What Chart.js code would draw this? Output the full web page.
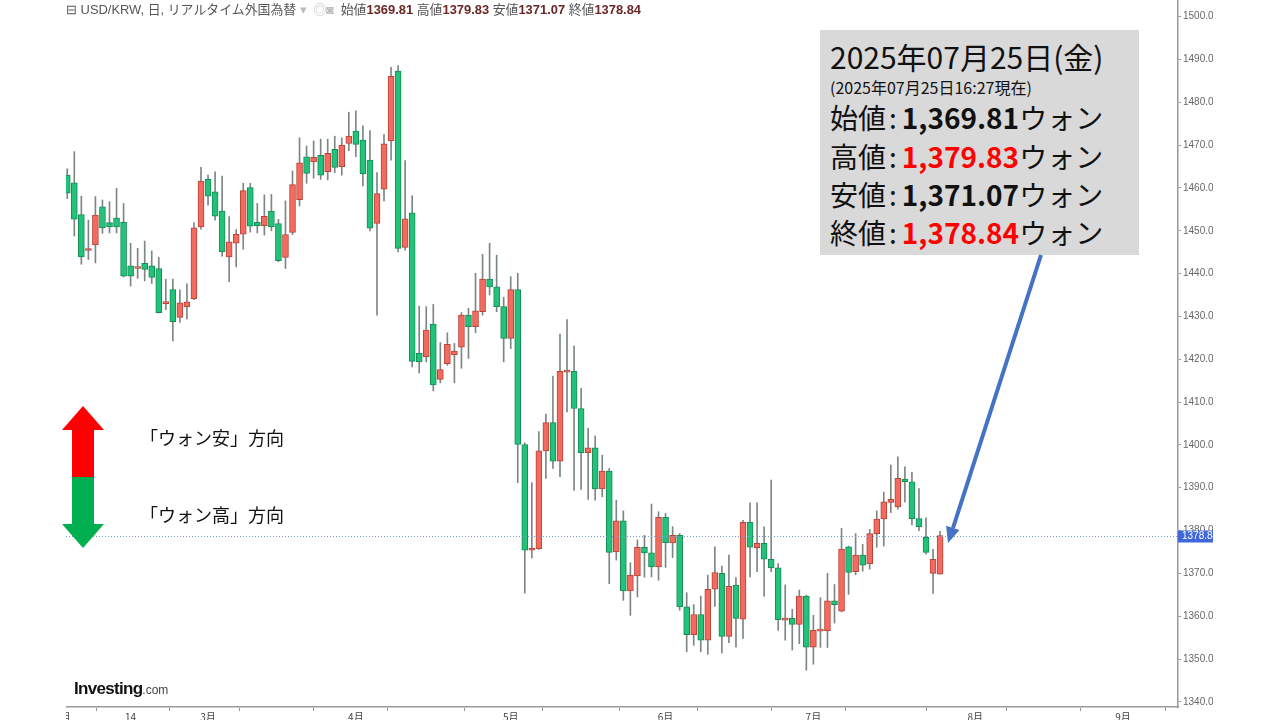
<!DOCTYPE html>
<html>
<head>
<meta charset="utf-8">
<script src="https://cdn.jsdelivr.net/npm/chart.js@4.4.1/dist/chart.umd.min.js"></script>
<style>
  body { margin: 0; width: 1280px; height: 720px; background: #fff; overflow: hidden; position: relative;
         font-family: "Noto Sans CJK JP", sans-serif; }
  #wrap { position: absolute; left: 66px; top: 0; width: 1147px; height: 720px; }
  .abs { position: absolute; white-space: nowrap; }
  #head { left: 66px; top: 3px; font-size: 12.9px; color: #555; line-height: 14px; font-family: "Liberation Sans", "Noto Sans CJK JP", sans-serif; }
  #head b { color: #6d2626; font-weight: bold; }
  #box { left: 820px; top: 30px; width: 319px; height: 225px; background: #d9d9d9; }
  .big { font-size: 28px; line-height: 28px; color: #111; }
  .big b { font-weight: bold; }
  .col { display: inline-block; margin: 0 5px 0 3px; }
  .red { color: #ff0000; }
  .dir { font-size: 18px; line-height: 18px; color: #111; }
</style>
</head>
<body>
<div id="wrap"><canvas id="chart"></canvas></div>

<div id="head" class="abs">⊟ USD/KRW, 日, リアルタイム外国為替 <span style="color:#bbb">▾</span>
  <span style="color:#bbb;margin:0 3px;">◎◙</span>
  始値<b>1369.81</b> 高値<b>1379.83</b> 安値<b>1371.07</b> 終値<b>1378.84</b></div>

<div id="box" class="abs"></div>
<div class="abs big" style="left:830px;top:41px;font-size:30px;line-height:30px;">2025年07月25日(金)</div>
<div class="abs" style="left:830px;top:79px;font-size:16px;line-height:16px;color:#111;">(2025年07月25日16:27現在)</div>
<div class="abs big" style="left:830px;top:103px;">始値<span class="col">:</span><b>1,369.81</b>ウォン</div>
<div class="abs big" style="left:830px;top:142px;">高値<span class="col">:</span><b class="red">1,379.83</b>ウォン</div>
<div class="abs big" style="left:830px;top:180px;">安値<span class="col">:</span><b>1,371.07</b>ウォン</div>
<div class="abs big" style="left:830px;top:218px;">終値<span class="col">:</span><b class="red">1,378.84</b>ウォン</div>

<svg class="abs" style="left:0;top:0" width="1280" height="720">
  <polygon points="83,406 104,430 94,430 94,477 72,477 72,430 62,430" fill="#ff0000"/>
  <polygon points="72,477 94,477 94,524 104,524 83,548 62,524 72,524" fill="#00b050"/>
  <line x1="1041" y1="255" x2="953" y2="528" stroke="#4472c4" stroke-width="4"/>
  <polygon points="948,543 959.5,529.9 946.1,525.7" fill="#4472c4"/>
</svg>

<div class="abs dir" style="left:140px;top:428px;">「ウォン安」方向</div>
<div class="abs dir" style="left:140px;top:505px;">「ウォン高」方向</div>

<div class="abs" style="left:74px;top:679px;font-family:'Liberation Sans',sans-serif;color:#111;">
  <span style="font-size:17px;font-weight:bold;letter-spacing:-0.7px;">Investing</span><span style="font-size:12px;color:#444;">.com</span>
</div>

<script>
// 日足データ (2025/2/3 〜 2025/7/25, 左から順番)
const opens = [1463.0,1461.2,1453.8,1445.4,1446.7,1455.6,1451.9,1453.0,1452.0,1441.8,
  1441.2,1442.4,1441.8,1441.2,1433.0,1436.3,1429.8,1432.3,1434.1,1450.9,
  1462.0,1459.1,1454.6,1443.9,1447.1,1449.2,1460.1,1452.0,1451.2,1454.6,
  1451.7,1443.8,1449.6,1457.3,1467.3,1466.1,1467.6,1463.8,1469.0,1465.0,
  1470.4,1473.3,1471.2,1466.5,1451.7,1459.7,1471.0,1487.3,1446.1,1454.2,
  1421.4,1420.6,1428.2,1415.3,1419.0,1421.1,1422.8,1430.3,1427.6,1431.1,
  1438.7,1436.9,1432.3,1424.9,1436.3,1400.1,1375.4,1375.8,1398.6,1405.2,
  1396.2,1417.0,1417.2,1408.5,1398.2,1399.3,1389.7,1393.9,1375.0,1382.3,
  1365.9,1369.4,1376.1,1374.8,1371.5,1383.1,1377.1,1378.9,1362.2,1355.7,
  1360.4,1354.4,1366.3,1370.0,1355.3,1367.3,1359.3,1381.9,1376.0,1377.0,
  1373.3,1371.3,1359.1,1359.5,1358.1,1364.7,1352.8,1356.5,1356.6,1363.6,
  1361.2,1376.2,1370.4,1374.3,1372.2,1379.3,1382.7,1386.6,1385.5,1392.0,
  1391.4,1382.8,1378.4,1370.0,1369.81];
const highs = [1464.5,1468.5,1458.1,1452.5,1458.0,1457.2,1456.8,1459.9,1456.4,1447.1,
  1445.9,1447.6,1445.3,1443.8,1438.7,1438.7,1436.2,1437.6,1451.9,1464.8,
  1463.0,1463.8,1462.8,1453.3,1450.3,1461.1,1461.1,1456.4,1458.4,1458.5,
  1452.7,1457.0,1464.0,1471.7,1469.8,1471.0,1471.4,1471.4,1472.1,1471.7,
  1477.7,1478.0,1474.5,1473.4,1463.6,1472.5,1488.2,1488.6,1466.4,1458.2,
  1432.4,1432.3,1432.8,1423.9,1426.2,1423.7,1430.9,1431.9,1440.1,1444.5,
  1447.1,1444.3,1434.5,1439.3,1440.1,1400.5,1391.2,1403.1,1407.2,1416.1,
  1425.9,1429.3,1423.1,1413.2,1403.9,1402.1,1397.6,1394.5,1387.1,1384.6,
  1372.5,1377.8,1378.9,1386.2,1384.4,1384.0,1380.9,1379.3,1365.5,1362.7,
  1364.7,1369.6,1376.2,1371.7,1374.3,1369.0,1382.4,1386.5,1386.5,1380.9,
  1391.8,1372.3,1367.3,1361.6,1366.1,1364.9,1360.2,1364.3,1370.0,1367.4,
  1380.5,1376.4,1379.3,1376.8,1380.3,1384.6,1389.0,1395.3,1397.2,1394.9,
  1393.6,1389.8,1383.0,1375.6,1379.83];
const lows = [1457.5,1448.8,1442.2,1443.3,1442.5,1449.4,1449.5,1449.5,1439.2,1437.1,
  1438.9,1438.3,1437.7,1430.8,1431.6,1424.3,1428.6,1429.4,1433.9,1450.4,
  1456.0,1452.5,1444.1,1438.1,1441.6,1445.7,1449.7,1449.5,1449.0,1450.0,
  1442.8,1441.2,1449.1,1455.8,1461.1,1462.3,1462.0,1461.9,1463.6,1463.0,
  1468.7,1467.3,1460.5,1450.0,1430.3,1457.0,1466.5,1445.1,1445.5,1418.2,
  1416.8,1419.4,1412.6,1414.5,1418.6,1414.5,1417.9,1420.2,1426.2,1430.3,
  1435.0,1431.1,1419.4,1422.5,1391.2,1365.4,1373.6,1375.6,1392.2,1394.5,
  1392.6,1407.7,1389.4,1389.6,1387.3,1387.1,1387.9,1367.6,1373.1,1363.7,
  1360.2,1364.5,1369.1,1369.2,1368.4,1371.4,1373.7,1361.4,1351.7,1353.2,
  1351.7,1351.1,1362.3,1351.4,1353.8,1352.8,1354.8,1369.2,1370.4,1364.7,
  1370.4,1356.7,1354.4,1352.1,1353.6,1347.4,1348.8,1352.7,1352.7,1358.4,
  1361.0,1365.1,1369.7,1370.5,1371.0,1376.1,1376.4,1384.2,1385.0,1386.7,
  1381.3,1380.0,1374.5,1365.3,1369.8];
const closes = [1458.8,1452.7,1443.9,1445.8,1453.7,1450.7,1450.9,1450.9,1439.4,1439.4,
  1441.5,1441.0,1439.1,1430.9,1433.2,1428.8,1433.2,1433.4,1450.7,1461.6,
  1458.1,1453.4,1445.1,1447.4,1449.2,1459.4,1451.1,1451.2,1453.4,1450.9,
  1443.0,1449.1,1460.8,1465.9,1463.4,1467.2,1463.0,1468.1,1464.8,1470.0,
  1472.1,1470.2,1463.3,1450.6,1458.7,1470.3,1486.1,1445.9,1452.8,1419.5,
  1419.4,1426.8,1414.0,1417.6,1423.5,1421.9,1430.3,1427.6,1431.3,1438.7,
  1436.9,1432.3,1424.9,1436.3,1400.1,1375.4,1375.8,1398.6,1405.2,1396.2,
  1417.2,1417.2,1408.5,1398.2,1399.3,1389.7,1393.9,1374.9,1382.3,1365.9,
  1369.6,1376.1,1374.8,1371.5,1383.1,1377.1,1378.9,1362.2,1355.7,1360.4,
  1354.4,1366.3,1370.2,1355.3,1367.0,1359.5,1381.9,1376.1,1377.0,1373.3,
  1371.3,1359.2,1359.3,1358.1,1364.7,1352.8,1356.7,1356.6,1363.6,1362.7,
  1375.7,1370.2,1374.3,1371.9,1379.3,1382.7,1386.7,1387.3,1392.2,1391.4,
  1382.8,1380.9,1374.9,1373.3,1378.84];

// 横軸の目盛り (営業日の番号と表示)
const tickPos  = [-0.6, 9, 20, 29, 41, 50, 63, 72, 85, 94, 106, 115, 129, 138, 150];
const tickText = ['2月', '14', '3月', '', '4月', '', '5月', '', '6月', '', '7月', '', '8月', '', '9月'];
// 縦軸の目盛り
const yTicks = [1340, 1350, 1360, 1370, 1380, 1390, 1400, 1410, 1420, 1430, 1440, 1450, 1460, 1470, 1480, 1490, 1500];

const upCol = '#f26b5e', upLine = '#b8433a';
const downCol = '#22c27b', downLine = '#178a55';

const lastClose = closes[closes.length - 1];

// 現在値の点線とラベル
const priceLine = {
  id: 'priceLine',
  afterDraw(chart) {
    const ctx = chart.ctx, a = chart.chartArea;
    const y = Math.round(chart.scales.y.getPixelForValue(lastClose)) + 0.5;
    ctx.save();
    ctx.strokeStyle = '#7d96d6';
    ctx.lineWidth = 1;
    ctx.setLineDash([1, 2]);
    ctx.beginPath();
    ctx.moveTo(a.left, y);
    ctx.lineTo(a.right, y);
    ctx.stroke();
    ctx.setLineDash([]);
    ctx.fillStyle = '#3f67d8';
    ctx.fillRect(a.right, y - 6, 40, 12);
    ctx.fillStyle = '#fff';
    ctx.font = '10px "Liberation Sans", Arial, sans-serif';
    ctx.textBaseline = 'middle';
    ctx.fillText(lastClose.toFixed(2), a.right + 4, y);
    ctx.restore();
  }
};

const ctx = document.getElementById('chart').getContext('2d');

new Chart(ctx, {
  type: 'bar',
  data: {
    datasets: [
      {
        label: 'body',
        data: opens.map((o, i) => ({ x: i, y: [o, closes[i]] })),
        backgroundColor: opens.map((o, i) => closes[i] >= o ? upCol : downCol),
        borderColor: opens.map((o, i) => closes[i] >= o ? upLine : downLine),
        borderWidth: 1,
        borderSkipped: false,
        barThickness: 6,
        minBarLength: 2,
        grouped: false,
        order: 0
      },
      {
        label: 'wick',
        data: highs.map((h, i) => ({ x: i, y: [lows[i], h] })),
        backgroundColor: '#7d8782',
        borderWidth: 0,
        barThickness: 1,
        grouped: false,
        order: 1
      }
    ]
  },
  options: {
    responsive: true,
    maintainAspectRatio: false,
    animation: false,
    layout: { padding: 0 },
    plugins: { legend: { display: false }, tooltip: { enabled: false } },
    scales: {
      x: {
        type: 'linear',
        min: -0.18,
        max: 157.8,
        offset: false,
        afterBuildTicks: s => { s.ticks = tickPos.map(v => ({ value: v })); },
        afterFit: s => { s.height = 13; s.paddingLeft = 0; s.paddingRight = 0; },
        grid: { drawOnChartArea: false, tickLength: 4, color: '#999' },
        border: { color: '#999', width: 1.5 },
        ticks: {
          autoSkip: false,
          maxRotation: 0,
          padding: 0,
          color: '#444',
          font: { size: 10, family: '"Noto Sans CJK JP", sans-serif' },
          callback: v => tickText[tickPos.indexOf(v)]
        }
      },
      y: {
        position: 'right',
        min: 1338.8,
        max: 1503.9,
        afterBuildTicks: s => { s.ticks = yTicks.map(v => ({ value: v })); },
        afterFit: s => { s.width = 35; s.paddingTop = 0; s.paddingBottom = 0; },
        grid: { drawOnChartArea: false, tickLength: 3, color: '#999' },
        border: { color: '#999', width: 1.5 },
        ticks: {
          padding: 2,
          color: '#666',
          font: { size: 10, family: '"Liberation Sans", Arial, sans-serif' },
          callback: v => v.toFixed(2)
        }
      }
    }
  },
  plugins: [priceLine]
});
</script>
</body>
</html>
